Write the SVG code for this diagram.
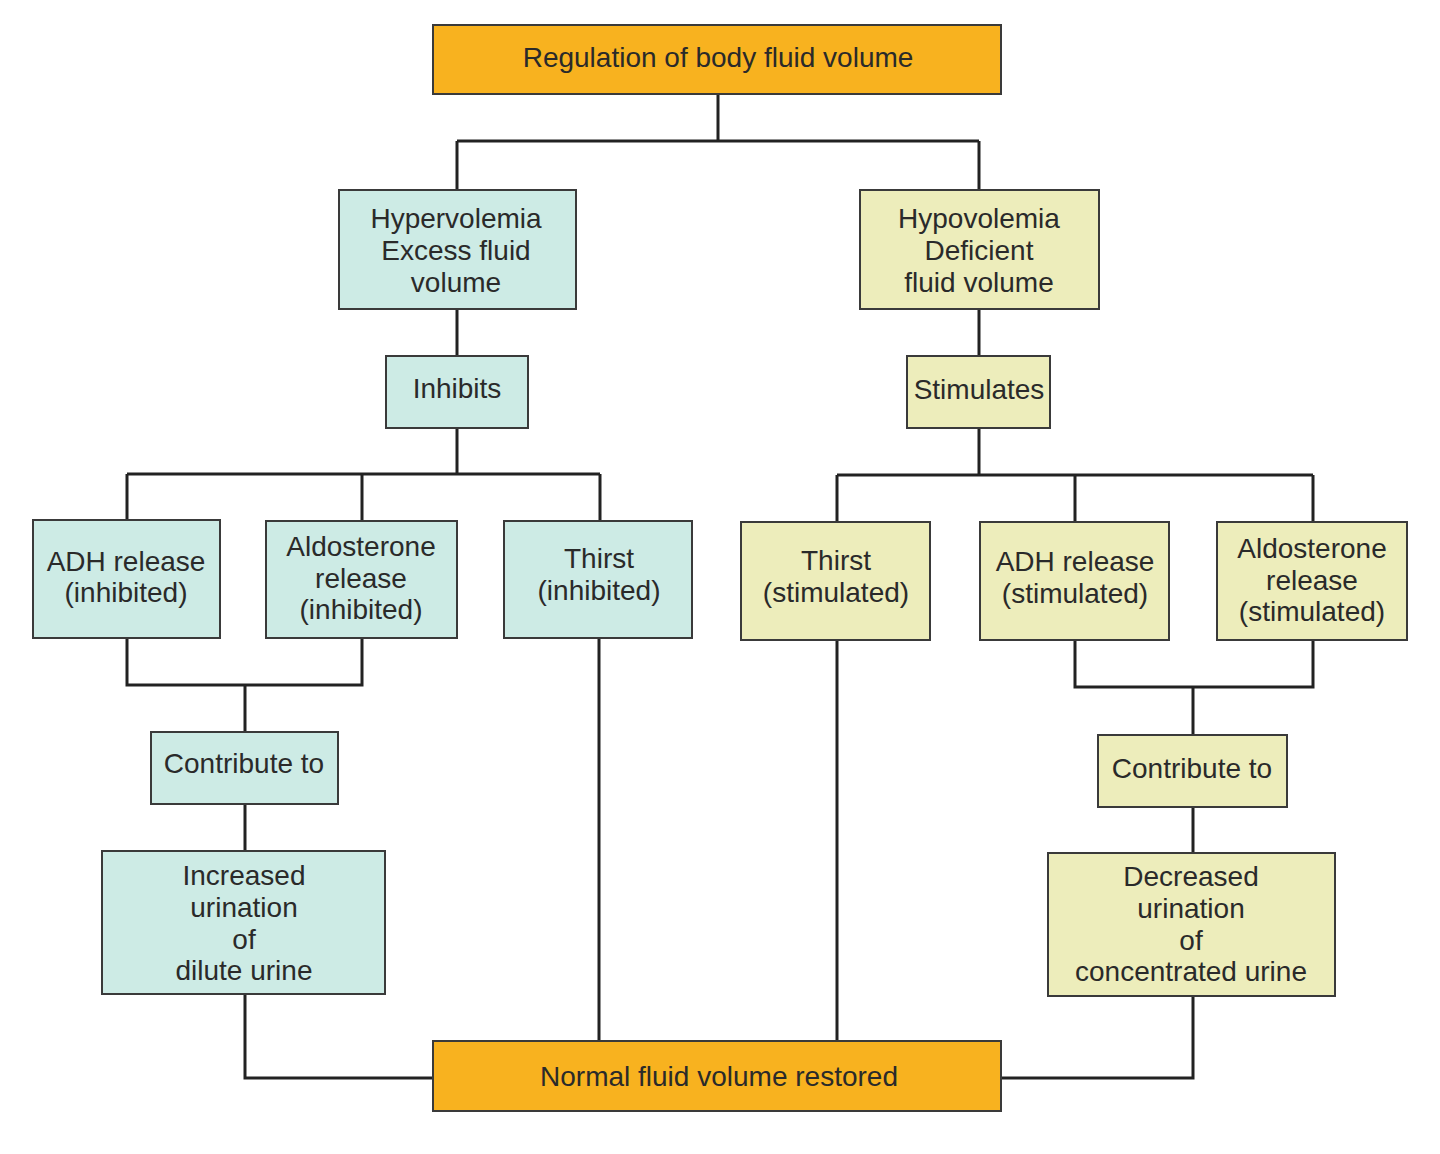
<svg xmlns="http://www.w3.org/2000/svg" width="1440" height="1154" viewBox="0 0 1440 1154">
<style>
  .box{stroke:#3a3a3a;stroke-width:2}
  .org{fill:#F8B21F}
  .cyan{fill:#CDEBE5}
  .yel{fill:#EDEDBB}
  text{font-family:"Liberation Sans",Arial,sans-serif;font-size:28px;fill:#2a2a2a;text-anchor:middle}
  .con{fill:none;stroke:#222;stroke-width:3}
</style>
<rect width="1440" height="1154" fill="#ffffff"/>
<g id="connectors">
  <path class="con" d="M718 94V141M457 141H979M457 141V190M979 141V190"/>
  <path class="con" d="M457 309V356M979 309V356"/>
  <path class="con" d="M457 428V474M127 474H600M127 474V520M362 474V521M600 474V521"/>
  <path class="con" d="M979 428V475M837 475H1313M837 475V522M1075 475V522M1313 475V522"/>
  <path class="con" d="M127 638V685H362V638M245 685V732M245 804V851M245 994V1078H433"/>
  <path class="con" d="M599 638V1041M837 640V1041"/>
  <path class="con" d="M1075 640V687H1313V640M1193 687V735M1193 807V853M1193 996V1078H1001"/>
</g>
<g id="top"><rect class="box org" x="433" y="25" width="568" height="69"/><text x="718" y="67">Regulation of body fluid volume</text></g>
<g id="hyper"><rect class="box cyan" x="339" y="190" width="237" height="119"/><text x="456" y="228">Hypervolemia</text><text x="456" y="260">Excess fluid</text><text x="456" y="292">volume</text></g>
<g id="hypo"><rect class="box yel" x="860" y="190" width="239" height="119"/><text x="979" y="228">Hypovolemia</text><text x="979" y="260">Deficient</text><text x="979" y="292">fluid volume</text></g>
<g id="inhibits"><rect class="box cyan" x="386" y="356" width="142" height="72"/><text x="457" y="398">Inhibits</text></g>
<g id="stimulates"><rect class="box yel" x="907" y="356" width="143" height="72"/><text x="979" y="399">Stimulates</text></g>
<g id="adh-inh"><rect class="box cyan" x="33" y="520" width="187" height="118"/><text x="126" y="571">ADH release</text><text x="126" y="602">(inhibited)</text></g>
<g id="aldo-inh"><rect class="box cyan" x="266" y="521" width="191" height="117"/><text x="361" y="556">Aldosterone</text><text x="361" y="588">release</text><text x="361" y="619">(inhibited)</text></g>
<g id="thirst-inh"><rect class="box cyan" x="504" y="521" width="188" height="117"/><text x="599" y="568">Thirst</text><text x="599" y="600">(inhibited)</text></g>
<g id="thirst-stim"><rect class="box yel" x="741" y="522" width="189" height="118"/><text x="836" y="570">Thirst</text><text x="836" y="602">(stimulated)</text></g>
<g id="adh-stim"><rect class="box yel" x="980" y="522" width="189" height="118"/><text x="1075" y="571">ADH release</text><text x="1075" y="603">(stimulated)</text></g>
<g id="aldo-stim"><rect class="box yel" x="1217" y="522" width="190" height="118"/><text x="1312" y="558">Aldosterone</text><text x="1312" y="590">release</text><text x="1312" y="621">(stimulated)</text></g>
<g id="contrib-left"><rect class="box cyan" x="151" y="732" width="187" height="72"/><text x="244" y="773">Contribute to</text></g>
<g id="contrib-right"><rect class="box yel" x="1098" y="735" width="189" height="72"/><text x="1192" y="778">Contribute to</text></g>
<g id="increased"><rect class="box cyan" x="102" y="851" width="283" height="143"/><text x="244" y="885">Increased</text><text x="244" y="917">urination</text><text x="244" y="949">of</text><text x="244" y="980">dilute urine</text></g>
<g id="decreased"><rect class="box yel" x="1048" y="853" width="287" height="143"/><text x="1191" y="886">Decreased</text><text x="1191" y="918">urination</text><text x="1191" y="950">of</text><text x="1191" y="981">concentrated urine</text></g>
<g id="normal"><rect class="box org" x="433" y="1041" width="568" height="70"/><text x="719" y="1086">Normal fluid volume restored</text></g>
</svg>
